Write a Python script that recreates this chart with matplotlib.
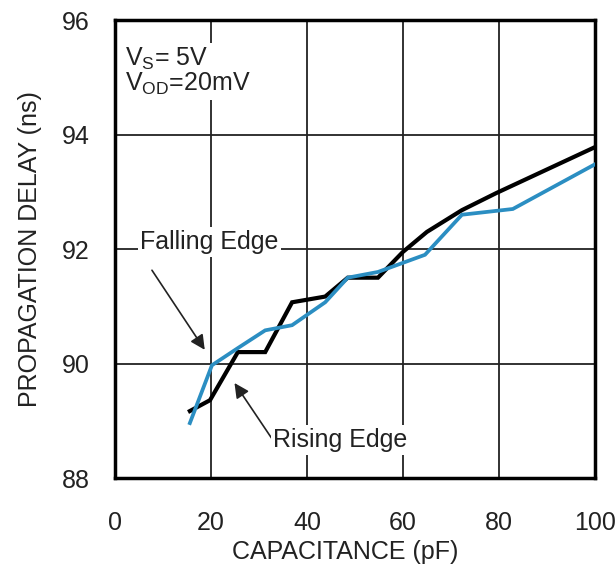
import matplotlib
matplotlib.use('Agg')
import matplotlib.pyplot as plt

# rising edge (black) and falling edge (blue), propagation delay vs load capacitance
rise_cap = [15.6, 19.8, 25.6, 31.3, 36.9, 43.8, 48.5, 54.8, 60.0, 65.0, 72.3, 79.5, 100.0]
rise_delay = [89.17, 89.36, 90.2, 90.2, 91.07, 91.17, 91.5, 91.5, 91.95, 92.3, 92.68, 92.98, 93.78]

fall_cap = [15.6, 20.2, 25.6, 31.3, 36.9, 43.8, 48.5, 54.8, 64.6, 72.3, 82.9, 100.0]
fall_delay = [88.96, 89.97, 90.27, 90.58, 90.67, 91.07, 91.5, 91.6, 91.9, 92.6, 92.7, 93.48]

x_ticks = [0, 20, 40, 60, 80, 100]
y_ticks = [88, 90, 92, 94, 96]

plt.rcParams['font.family'] = ['Liberation Sans', 'DejaVu Sans']
plt.rcParams['mathtext.fontset'] = 'custom'
plt.rcParams['mathtext.rm'] = 'Liberation Sans'
plt.rcParams['mathtext.it'] = 'Liberation Sans'

fs = 18
ink = '#222222'

fig = plt.figure(figsize=(6.16, 5.74), dpi=100)
ax = fig.add_axes([0.1867, 0.1672, 0.779, 0.7978])

ax.plot(rise_cap, rise_delay, color='black', lw=3.0, zorder=4, solid_joinstyle='miter')
ax.plot(fall_cap, fall_delay, color='#2b8ec2', lw=2.7, zorder=5, solid_joinstyle='miter')

ax.set_xlim(0, 100)
ax.set_ylim(88, 96)
ax.set_xticks(x_ticks)
ax.set_yticks(y_ticks)
ax.grid(True, color=ink, lw=1.3)
ax.set_axisbelow(True)
ax.tick_params(length=0, labelsize=fs, colors=ink)
ax.tick_params(axis='y', pad=18)
ax.tick_params(axis='x', pad=24)
for s in ax.spines.values():
    s.set_linewidth(2.5)
    s.set_color('black')

ax.set_xlabel('CAPACITANCE (pF)', fontsize=fs, color=ink)
ax.set_ylabel('PROPAGATION DELAY (ns)', fontsize=fs, color=ink)
ax.xaxis.set_label_coords(0.48, -0.135)
ax.yaxis.set_label_coords(-0.152, 0.5)

box = dict(facecolor='white', edgecolor='none', pad=2)
ax.text(2.0, 95.1, 'V$_\\mathrm{S}$= 5V\nV$_\\mathrm{OD}$=20mV', fontsize=fs,
        color=ink, va='center', ha='left', linespacing=0.95, bbox=box, zorder=3)

arrow = dict(arrowstyle='-|>', mutation_scale=22, lw=1.2, color=ink,
             shrinkA=0, shrinkB=0)
ax.annotate('', xy=(18.7, 90.24), xytext=(7.7, 91.63), arrowprops=arrow, zorder=3)
ax.text(19.7, 92.12, 'Falling Edge', fontsize=fs, color=ink,
        ha='center', va='center', bbox=box, zorder=3)
ax.annotate('', xy=(24.9, 89.66), xytext=(32.6, 88.7), arrowprops=arrow, zorder=3)
ax.text(33.0, 88.66, 'Rising Edge', fontsize=fs, color=ink,
        ha='left', va='center', bbox=box, zorder=3)

fig.savefig('out.png', dpi=100)
